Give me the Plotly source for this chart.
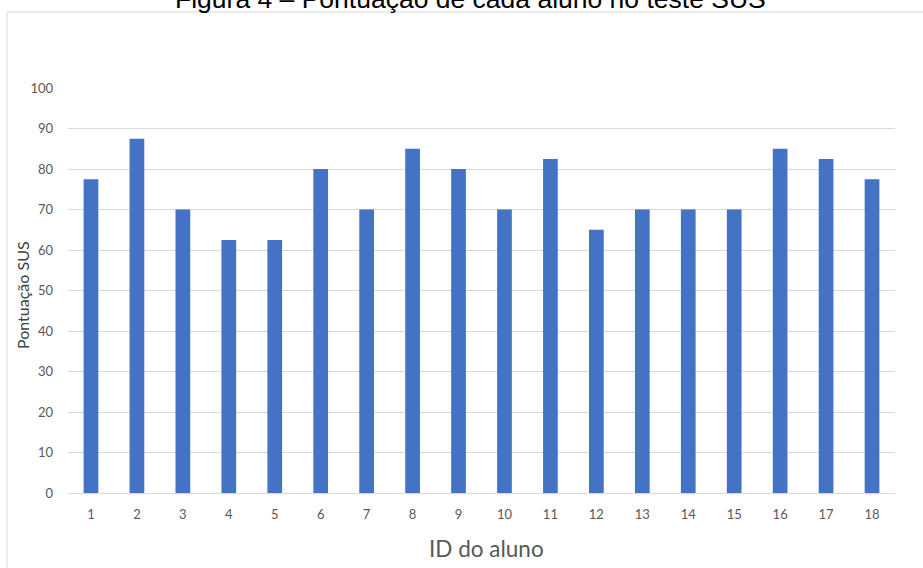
import plotly.graph_objects as go

# Student IDs and their SUS scores
alunos = [str(i) for i in range(1, 19)]
pontuacao = [77.5, 87.5, 70, 62.5, 62.5, 80, 70, 85, 80, 70, 82.5, 65, 70, 70, 70, 85, 82.5, 77.5]
y_ticks = [0, 10, 20, 30, 40, 50, 60, 70, 80, 90, 100]

W, H = 923, 568
L, R, T, B = 68, 28, 88, 75
plot_w = W - L - R
plot_h = H - T - B


def px_x(x):
    return (x - L) / plot_w


def px_y(y):
    return (H - B - y) / plot_h


fig = go.Figure(
    go.Bar(
        x=alunos,
        y=pontuacao,
        marker=dict(color="#4472C4", line=dict(width=0)),
        width=0.32,
        hoverinfo="x+y",
    )
)

label_family = "Lato, 'Open Sans', sans-serif"
tick_font = dict(family=label_family, size=13, color="#595959")

fig.update_layout(
    width=W,
    height=H,
    margin=dict(l=L, r=R, t=T, b=B),
    paper_bgcolor="white",
    plot_bgcolor="white",
    showlegend=False,
    xaxis=dict(
        type="category",
        tickfont=tick_font,
        showgrid=False,
        showline=True,
        linecolor="#d9d9d9",
        linewidth=1,
        ticks="",
        ticklabelstandoff=9,
    ),
    yaxis=dict(
        range=[0, 100],
        tickvals=y_ticks,
        tickfont=tick_font,
        showgrid=True,
        gridcolor="#d9d9d9",
        gridwidth=1,
        zeroline=False,
        showline=False,
        ticks="",
        ticklabelstandoff=14,
    ),
    annotations=[
        dict(
            text="Figura 4 – Pontuação de cada aluno no teste SUS",
            xref="paper", yref="paper",
            x=px_x(470), y=px_y(-1),
            xanchor="center", yanchor="middle",
            showarrow=False,
            font=dict(family="'Liberation Sans', Arial, sans-serif", size=26.5, color="#000000"),
        ),
        dict(
            text="Pontuação SUS",
            xref="paper", yref="paper",
            x=px_x(22), y=px_y(295),
            xanchor="center", yanchor="middle",
            textangle=-90,
            showarrow=False,
            font=dict(family=label_family, size=16, color="#404040"),
        ),
        dict(
            text="ID do aluno",
            xref="paper", yref="paper",
            x=px_x(486), y=px_y(548),
            xanchor="center", yanchor="middle",
            showarrow=False,
            font=dict(family=label_family, size=22.5, color="#595959"),
        ),
    ],
    shapes=[
        dict(
            type="rect",
            xref="paper", yref="paper",
            x0=px_x(7), x1=1.2,
            y0=-0.3, y1=px_y(12),
            line=dict(color="#d9d9d9", width=1),
            layer="below",
        )
    ],
)

fig.write_html("out.html")
